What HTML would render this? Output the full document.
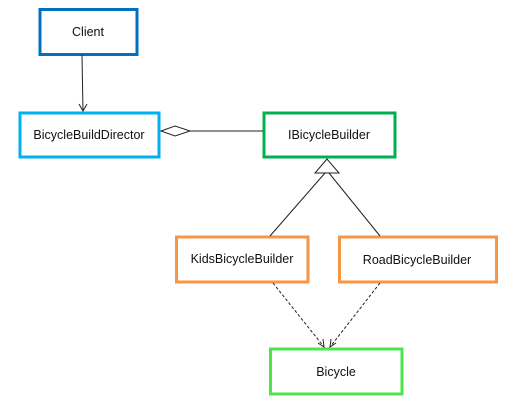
<!DOCTYPE html>
<html><head><style>
body{margin:0;background:#fff;width:508px;height:400px;overflow:hidden}
text{font-family:"Liberation Sans",sans-serif;font-size:12.5px;fill:#111}
</style></head><body>
<svg width="508" height="400" viewBox="0 0 508 400">
<g fill="none" stroke-width="3">
<rect x="40" y="9.5" width="97" height="45" stroke="#0070c0"/>
<rect x="20" y="113" width="139" height="44" stroke="#00b0f0"/>
<rect x="264" y="113" width="131" height="44" stroke="#00b050"/>
<rect x="176.5" y="237" width="131.5" height="45" stroke="#f79646"/>
<rect x="339.5" y="237" width="157" height="45" stroke="#f79646"/>
<rect x="270.5" y="349" width="131.5" height="45" stroke="#4ce64c"/>
</g>
<g stroke="#222" stroke-width="1" fill="none">
<line x1="82" y1="55" x2="83" y2="111"/>
<polyline points="79,104 83,111 87,104"/>
<polygon points="161,131 175,126 190,131 175,136" fill="#fff"/>
<line x1="190" y1="131" x2="263" y2="131"/>
<polygon points="327,159 315,173 339,173" fill="#fff"/>
<line x1="325" y1="173" x2="270" y2="236"/>
<line x1="329" y1="173" x2="380" y2="236"/>
<g stroke-dasharray="3,2">
<line x1="273" y1="283" x2="324" y2="347"/>
<line x1="380" y1="283" x2="330" y2="347"/>
</g>
<polyline points="318,343 324,347 323,339"/>
<polyline points="331,339 330,347 336,343"/>
</g>
<g text-anchor="middle">
<text x="88" y="36">Client</text>
<text x="89" y="139">BicycleBuildDirector</text>
<text x="329" y="139">IBicycleBuilder</text>
<text x="242" y="263">KidsBicycleBuilder</text>
<text x="417" y="264">RoadBicycleBuilder</text>
<text x="336" y="376">Bicycle</text>
</g>
</svg>
</body></html>
